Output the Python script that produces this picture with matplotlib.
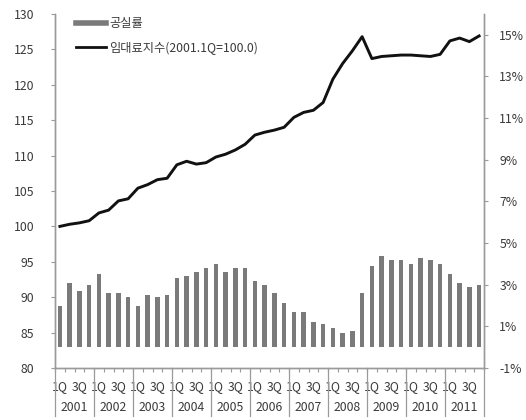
import matplotlib
matplotlib.use("Agg")
import matplotlib.pyplot as plt
from matplotlib.lines import Line2D
from matplotlib.transforms import blended_transform_factory
import numpy as np

plt.rcParams['font.family'] = ['Noto Sans CJK KR', 'DejaVu Sans']

years = ["2001", "2002", "2003", "2004", "2005", "2006",
         "2007", "2008", "2009", "2010", "2011"]
quarter_labels = ["1Q", "", "3Q", ""]

# vacancy rate (%), quarterly 2001Q1 - 2011Q4
vacancy = [2.0, 3.1, 2.7, 3.0,
           3.5, 2.6, 2.6, 2.4,
           2.0, 2.5, 2.4, 2.5,
           3.3, 3.4, 3.6, 3.8,
           4.0, 3.6, 3.8, 3.8,
           3.2, 3.0, 2.6, 2.1,
           1.7, 1.7, 1.2, 1.1,
           0.9, 0.7, 0.8, 2.6,
           3.9, 4.4, 4.2, 4.2,
           4.0, 4.3, 4.2, 4.0,
           3.5, 3.1, 2.9, 3.0]

# rent index (2001.1Q = 100.0)
rent_index = [100.0, 100.3, 100.5, 100.8,
              101.9, 102.3, 103.6, 103.9,
              105.4, 105.9, 106.6, 106.8,
              108.7, 109.2, 108.8, 109.0,
              109.8, 110.2, 110.8, 111.6,
              112.9, 113.3, 113.6, 114.0,
              115.4, 116.1, 116.4, 117.5,
              120.8, 123.0, 124.8, 126.8,
              123.7, 124.0, 124.1, 124.2,
              124.2, 124.1, 124.0, 124.3,
              126.2, 126.6, 126.1, 126.9]

n = len(vacancy)
x = np.arange(n)

fig = plt.figure(figsize=(5.26, 4.20), dpi=100)
ax = fig.add_axes([55 / 526, 1 - 368 / 420, 429 / 526, 354 / 420])
ax2 = ax.twinx()

axis_gray = "#9a9a9a"
text_col = "#3a3a3a"
fs = 8.8

# bars on the percentage axis (right side)
ax.bar(x, vacancy, width=0.45, color="#7a7a7a", zorder=2)
ax.set_ylim(-1, 16)
ax.set_yticks(np.arange(-1, 16, 2))
ax.set_yticklabels([f"{v}%" for v in range(-1, 16, 2)])
ax.yaxis.tick_right()
ax.set_xlim(-0.5, n - 0.5)

# line on the index axis (left side)
ax2.plot(x, rent_index, color="#111111", lw=2.1, solid_joinstyle="round", zorder=3)
ax2.set_ylim(80, 130)
ax2.set_yticks(np.arange(80, 131, 5))
ax2.yaxis.tick_left()

for a in (ax, ax2):
    a.spines['top'].set_visible(False)
    for s in ('left', 'right', 'bottom'):
        a.spines[s].set_color(axis_gray)
        a.spines[s].set_linewidth(1.0)
    a.tick_params(axis='y', colors=axis_gray, labelcolor=text_col,
                  labelsize=fs, length=3, width=0.8, direction='out')

ax2.tick_params(axis='y', pad=12)
ax.tick_params(axis='y', pad=8)

# category axis: quarter labels plus year row with separators
ax.set_xticks(x)
ax.set_xticklabels([quarter_labels[i % 4] for i in range(n)])
ax.tick_params(axis='x', length=0, labelsize=fs, labelcolor=text_col, pad=9)
ax.set_xticks(np.arange(-0.5, n, 1), minor=True)
ax.tick_params(axis='x', which='minor', length=3, color=axis_gray, width=0.8)

trans = blended_transform_factory(ax.transData, ax.transAxes)
for k in range(len(years) + 1):
    xb = 4 * k - 0.5
    ax.plot([xb, xb], [0, -0.135], transform=trans, color=axis_gray,
            lw=0.9, clip_on=False)
for k, yr in enumerate(years):
    ax.text(4 * k + 1.5, -0.111, yr, transform=trans, ha='center',
            va='center', fontsize=fs, color=text_col)

handles = [Line2D([], [], color="#7a7a7a", lw=4),
           Line2D([], [], color="#111111", lw=2)]
labels = ["공실률", "임대료지수(2001.1Q=100.0)"]
ax2.legend(handles, labels, loc='upper left', bbox_to_anchor=(0.05, 0.992),
           frameon=False, fontsize=fs, handlelength=2.4, handletextpad=0.3,
           labelspacing=0.95, borderpad=0, borderaxespad=0,
           labelcolor=text_col)

fig.savefig("out.png", dpi=100)
